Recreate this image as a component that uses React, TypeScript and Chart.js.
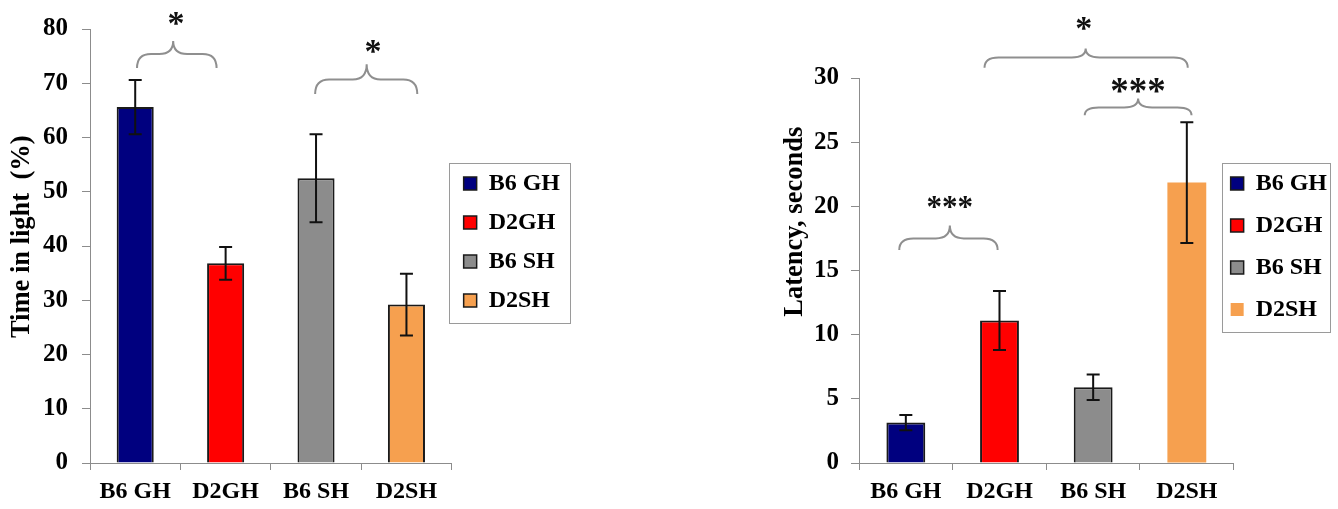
import React, { useEffect, useRef } from 'react';
import { Chart, registerables } from 'chart.js';

Chart.register(...registerables);

// ---------- data ----------
const categories = ['B6 GH', 'D2GH', 'B6 SH', 'D2SH'];

const lightValues = [65.6, 36.8, 52.5, 29.2];
const lightErrors = [5.0, 3.0, 8.1, 5.7];
const lightTickMin = 0;
const lightTickMax = 80;
const lightTickStep = 10;

const latencyValues = [3.15, 11.1, 5.9, 21.85];
const latencyErrors = [0.6, 2.3, 1.0, 4.7];
const latencyTickMin = 0;
const latencyTickMax = 30;
const latencyTickStep = 5;

const barColors = ['#00007f', '#ff0000', '#8c8c8c', '#f6a04f'];

// significance annotations: category index positions, values on the y scale
const lightBraces = [
  { from: 0.02, mid: 0.42, to: 0.9, top: 75.4, peak: 77.8, end: 72.8, label: '*', labelAt: 0.45, labelY: 81.8, size: 34 },
  { from: 1.99, mid: 2.56, to: 3.12, top: 70.7, peak: 73.5, end: 68.0, label: '*', labelAt: 2.63, labelY: 76.7, size: 34 },
];
const latencyBraces = [
  { from: 0.84, mid: 1.92, to: 3.01, top: 31.6, peak: 32.3, end: 30.8, label: '*', labelAt: 1.9, labelY: 34.2, size: 34 },
  { from: 1.91, mid: 2.48, to: 3.05, top: 27.7, peak: 28.4, end: 27.1, label: '***', labelAt: 2.48, labelY: 29.3, size: 37 },
  { from: -0.07, mid: 0.47, to: 0.98, top: 17.5, peak: 18.5, end: 16.6, label: '***', labelAt: 0.47, labelY: 20.2, size: 31 },
];

const FONT = "'Liberation Serif', 'Times New Roman', serif";
const AXIS_GREY = '#8c8c8c';
const BRACE_GREY = '#8f8f8f';

const extrasPlugin = {
  id: 'figureExtras',
  afterLayout(chart: any, _a: any, opts: any) {
    const lg = chart.legend;
    if (lg && opts.legendShift) {
      lg.left += opts.legendShift.x;
      lg.right += opts.legendShift.x;
      lg.top += opts.legendShift.y;
      lg.bottom += opts.legendShift.y;
    }
  },
  afterDatasetsDraw(chart: any, _a: any, opts: any) {
    const ctx = chart.ctx;
    const meta = chart.getDatasetMeta(0);
    const ys = chart.scales.y;
    const vals = chart.data.datasets[0].data as number[];
    const errs = opts.errors as number[];
    ctx.save();
    ctx.strokeStyle = '#111';
    ctx.lineWidth = 2;
    meta.data.forEach((bar: any, i: number) => {
      const x = bar.x;
      const t = ys.getPixelForValue(vals[i] + errs[i]);
      const b = ys.getPixelForValue(vals[i] - errs[i]);
      const c = 6.5;
      ctx.beginPath();
      ctx.moveTo(x, t);
      ctx.lineTo(x, b);
      ctx.moveTo(x - c, t);
      ctx.lineTo(x + c, t);
      ctx.moveTo(x - c, b);
      ctx.lineTo(x + c, b);
      ctx.stroke();
    });
    ctx.restore();
  },
  afterDraw(chart: any, _a: any, opts: any) {
    const ctx = chart.ctx;
    const xs = chart.scales.x;
    const ys = chart.scales.y;
    ctx.save();
    // braces + stars
    (opts.braces || []).forEach((br: any) => {
      const x1 = xs.getPixelForValue(br.from);
      const xm = xs.getPixelForValue(br.mid);
      const x2 = xs.getPixelForValue(br.to);
      const yT = ys.getPixelForValue(br.top);
      const yP = ys.getPixelForValue(br.peak);
      const yE = ys.getPixelForValue(br.end);
      const r = 14;
      ctx.strokeStyle = BRACE_GREY;
      ctx.lineWidth = 2;
      ctx.beginPath();
      ctx.moveTo(x1, yE);
      ctx.quadraticCurveTo(x1, yT, x1 + r, yT);
      ctx.lineTo(xm - r, yT);
      ctx.quadraticCurveTo(xm, yT, xm, yP);
      ctx.quadraticCurveTo(xm, yT, xm + r, yT);
      ctx.lineTo(x2 - r, yT);
      ctx.quadraticCurveTo(x2, yT, x2, yE);
      ctx.stroke();
      ctx.fillStyle = '#111';
      ctx.font = `bold ${br.size}px ${FONT}`;
      ctx.textAlign = 'center';
      ctx.textBaseline = 'middle';
      ctx.fillText(br.label, xs.getPixelForValue(br.labelAt), ys.getPixelForValue(br.labelY) + br.size * 0.18);
    });
    // y axis title
    if (opts.yTitle) {
      ctx.save();
      ctx.translate(opts.yTitle.x, ys.getPixelForValue(opts.yTitle.at));
      ctx.rotate(-Math.PI / 2);
      ctx.font = `bold 26.5px ${FONT}`;
      ctx.fillStyle = '#000';
      ctx.textAlign = 'center';
      ctx.textBaseline = 'middle';
      ctx.fillText(opts.yTitle.text, 0, 0);
      ctx.restore();
    }
    // legend frame
    const lg = chart.legend;
    if (lg && lg.legendHitBoxes && lg.legendHitBoxes.length) {
      const hb = lg.legendHitBoxes;
      const f = opts.legendFrame;
      const left = hb[0].left - f.l;
      const top = hb[0].top - f.t;
      const right = Math.max(...hb.map((h: any) => h.left + h.width)) + f.r;
      const bottom = hb[hb.length - 1].top + hb[hb.length - 1].height + f.b;
      ctx.strokeStyle = '#9a9a9a';
      ctx.lineWidth = 1;
      ctx.strokeRect(Math.round(left) + 0.5, Math.round(top) + 0.5, Math.round(right - left), Math.round(bottom - top));
    }
    ctx.restore();
  },
};

function makeConfig(p: any) {
  return {
    type: 'bar',
    data: {
      labels: categories,
      datasets: [
        {
          data: p.values,
          backgroundColor: barColors,
          borderColor: '#1a1a1a',
          borderWidth: p.borderWidths,
          barPercentage: p.barPct,
          categoryPercentage: 1,
        },
      ],
    },
    options: {
      responsive: false,
      animation: false,
      layout: { padding: { top: p.padTop, right: 0, bottom: 0, left: 0 } },
      scales: {
        x: {
          type: 'category',
          offset: true,
          grid: { display: true, drawOnChartArea: false, drawTicks: true, tickLength: 7, color: AXIS_GREY, offset: true },
          border: { color: AXIS_GREY, width: 1 },
          ticks: { color: '#000', font: { family: FONT, size: 24, weight: 'bold' }, padding: 7, maxRotation: 0, autoSkip: false },
          afterFit: (s: any) => { s.height = 46; },
        },
        y: {
          min: p.min,
          max: p.max,
          grid: { drawOnChartArea: false, drawTicks: true, tickLength: 8, color: AXIS_GREY },
          border: { color: AXIS_GREY, width: 1 },
          ticks: { stepSize: p.step, color: '#000', font: { family: FONT, size: 25, weight: 'bold' }, padding: p.yTickPad },
          afterFit: (s: any) => { s.width = p.yWidth; },
        },
      },
      plugins: {
        tooltip: { enabled: false },
        legend: {
          display: true,
          position: 'right',
          fullSize: false,
          labels: {
            color: '#000',
            font: { family: FONT, size: 24, weight: 'bold' },
            boxWidth: 13,
            boxHeight: 13,
            padding: p.legendPad,
            generateLabels: () =>
              categories.map((c, i) => ({
                text: c,
                fillStyle: barColors[i],
                strokeStyle: p.borderWidths[i] > 0 ? '#1a1a1a' : barColors[i],
                lineWidth: p.borderWidths[i] > 0 ? 1.5 : 0,
                hidden: false,
                index: i,
                datasetIndex: 0,
              })),
          },
        },
        figureExtras: {
          errors: p.errors,
          braces: p.braces,
          yTitle: p.yTitle,
          legendShift: p.legendShift,
          legendFrame: p.legendFrame,
        },
      },
    },
    plugins: [extrasPlugin],
  };
}

function Panel({ config, left, width }: { config: any; left: number; width: number }) {
  const ref = useRef<HTMLCanvasElement>(null);
  useEffect(() => {
    const chart = new Chart(ref.current as HTMLCanvasElement, config);
    return () => chart.destroy();
  }, []);
  return (
    <div style={{ position: 'absolute', left, top: 0, width, height: 509 }}>
      <canvas ref={ref} width={width} height={509} style={{ display: 'block' }} />
    </div>
  );
}

export default function App() {
  useEffect(() => {
    document.body.style.margin = '0';
  }, []);
  const leftConfig = makeConfig({
    values: lightValues,
    errors: lightErrors,
    min: lightTickMin,
    max: lightTickMax,
    step: lightTickStep,
    borderWidths: [2, 2, 2, 2],
    barPct: 0.41,
    padTop: 28,
    yWidth: 90,
    yTickPad: 14,
    legendPad: 15,
    legendShift: { x: -3, y: -4 },
    legendFrame: { l: 15, t: 9, r: 10, b: 10 },
    braces: lightBraces,
    yTitle: { text: 'Time in light  (%)', x: 22, at: 41.7 },
  });
  const rightConfig = makeConfig({
    values: latencyValues,
    errors: latencyErrors,
    min: latencyTickMin,
    max: latencyTickMax,
    step: latencyTickStep,
    borderWidths: [2, 2, 2, 0],
    barPct: 0.415,
    padTop: 78,
    yWidth: 89,
    yTickPad: 12,
    legendPad: 18,
    legendShift: { x: -21, y: -24 },
    legendFrame: { l: 9, t: 9, r: 3, b: 10 },
    braces: latencyBraces,
    yTitle: { text: 'Latency, seconds', x: 25, at: 18.8 },
  });
  return (
    <div style={{ position: 'relative', width: 1338, height: 509, overflow: 'hidden', background: '#fff' }}>
      <Panel config={leftConfig} left={0} width={573} />
      <Panel config={rightConfig} left={770} width={588} />
    </div>
  );
}
